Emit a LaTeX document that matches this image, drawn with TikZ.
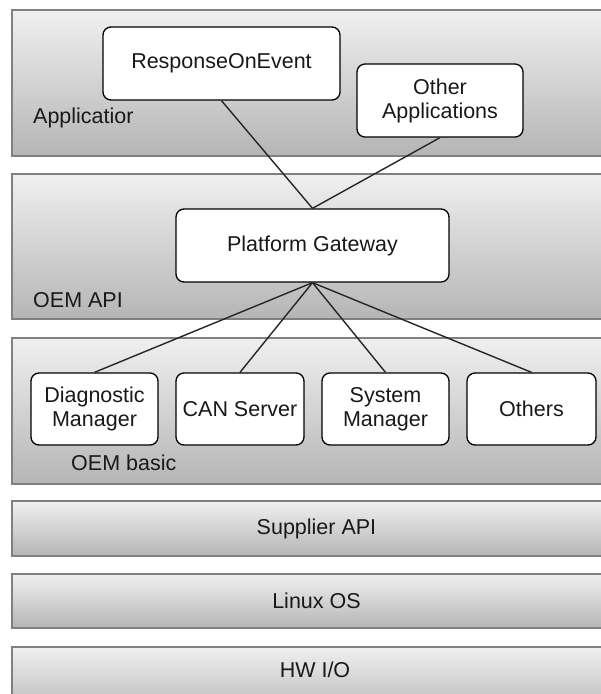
\documentclass[tikz,border=0pt]{standalone}
\usepackage{fontspec}
\setmainfont{Liberation Sans}
\begin{document}
\begin{tikzpicture}[x=1pt,y=-1pt,
  txt/.style={font=\fontsize{21.5}{24}\selectfont, text=black!90},
  layer/.style={draw=black!50, line width=2pt, top color=black!6, bottom color=black!29,
    rectangle, inner sep=0pt, anchor=north west, txt},
  box/.style={draw=black, fill=white, rounded corners=8pt, line width=1.3pt,
    align=center, inner sep=0pt, txt},
  label/.style={anchor=west, inner sep=0pt, txt},
  link/.style={draw=black!85, line width=1.4pt}]
\useasboundingbox (0,0) rectangle (601,694);
\fill[white] (0,0) rectangle (601,694);
\clip (0,0) rectangle (601,694);

% stacked layers
\node[layer, minimum width=609pt, minimum height=146pt] (app) at (11,9) {};
\node[layer, minimum width=609pt, minimum height=145pt] (api) at (11,173) {};
\node[layer, minimum width=609pt, minimum height=146pt] (basic) at (11,337) {};
\node[layer, minimum width=609pt, minimum height=55pt] (sup) at (11,500) {Supplier API};
\node[layer, minimum width=609pt, minimum height=54pt] (os) at (11,573) {Linux OS};
\node[layer, minimum width=609pt, minimum height=70pt] (hw) at (11,646) {};
\node[txt] (hwl) at (315,670) {HW I/O};

% layer captions
\node[label] (appl) at (33,118) {Applicatior};
\node[label] (apil) at (33,300) {OEM API};
\node[label] (basicl) at (71,463) {OEM basic};

% components
\node[box, minimum width=237pt, minimum height=73pt] (roe) at (221.5,63.5) {ResponseOnEvent};
\node[box, minimum width=166pt, minimum height=73pt] (oth) at (440,100.5) {Other\\Applications};
\node[box, minimum width=273pt, minimum height=73pt] (pg) at (312.5,245.5) {Platform Gateway};
\node[box, minimum width=127pt, minimum height=72pt] (dm) at (94.5,409) {Diagnostic\\Manager};
\node[box, minimum width=128pt, minimum height=72pt] (can) at (240,409) {CAN Server};
\node[box, minimum width=127pt, minimum height=72pt] (sm) at (385.5,409) {System\\Manager};
\node[box, minimum width=129pt, minimum height=72pt] (oths) at (531.5,409) {Others};

% connections
\path[link] (roe.south) -- (pg.north);
\path[link] (oth.south) -- (pg.north);
\path[link] (pg.south) -- (dm.north);
\path[link] (pg.south) -- (can.north);
\path[link] (pg.south) -- (sm.north);
\path[link] (pg.south) -- (oths.north);
\end{tikzpicture}
\end{document}
